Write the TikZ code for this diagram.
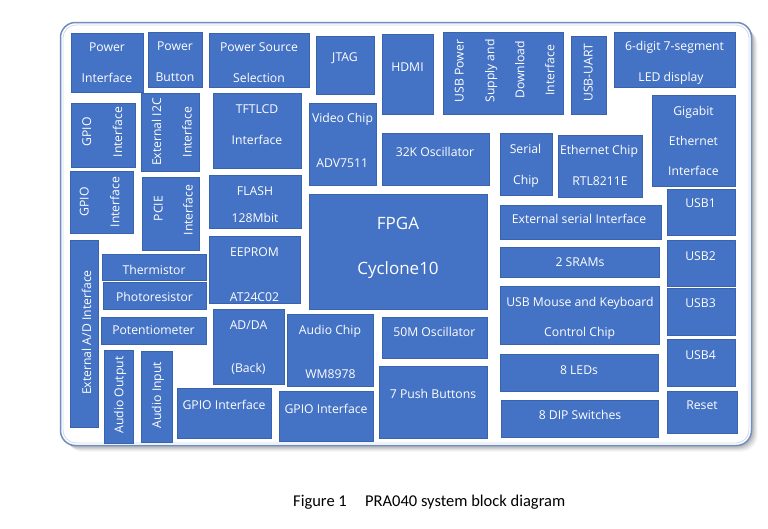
\documentclass[tikz,border=0pt]{standalone}
\usepackage{fontspec}
\setmainfont{Open Sans}
\newfontfamily\capfont{Carlito}
\definecolor{blkfill}{HTML}{4472C4}
\definecolor{blkline}{HTML}{3A63AE}
\definecolor{frameline}{HTML}{6F8DC0}
\definecolor{framein}{HTML}{D3DBEA}
\tikzset{
  blkst/.style={draw=blkline, fill=blkfill, line width=0.7pt, inner sep=0pt, outer sep=0pt},
  txt/.style={text=white, font=\fontsize{12.2}{14}\selectfont, inner sep=0pt, text height=8.7pt, text depth=0pt},
  bigtxt/.style={text=white, font=\fontsize{17}{19}\selectfont, inner sep=0pt, text height=12.1pt, text depth=0pt},
  capst/.style={text=black, font=\capfont\fontsize{16.5}{19}\selectfont, inner sep=0pt},
  framest/.style={draw=frameline, fill=white, line width=1.5pt, rounded corners=15pt, inner sep=0pt}
}
\newcommand\blk[5]{\node[blkst, minimum width={(#4-#2)*1pt}, minimum height={(#5-#3)*1pt}] (#1) at ({(#2+#4)/2},{(#3+#5)/2}) {};}
\newcommand\bxt[4]{\node[txt] (#1) at (#2,#3) {#4};}
\newcommand\bxr[4]{\node[txt, rotate=90] (#1) at (#2,#3) {#4};}
\begin{document}
\begin{tikzpicture}[x=1pt,y=-1pt]
\useasboundingbox (0,0) rectangle (768,528);
% shadow
\foreach \o/\op in {6/0.04,5/0.05,4/0.06,3/0.07,2/0.08}{
  \fill[black, opacity=\op, rounded corners=16pt] (60.5+\o,22.5+\o) rectangle (751.5+\o,445.5+\o);
}
\node[framest, minimum width=691pt, minimum height=423pt] (frame) at (406,234) {};
\draw[framein, line width=0.8pt, rounded corners=13pt] (63,25) rectangle (749,443);

% boxes
\blk{pwrif}{71}{33}{143}{92}
\bxt{pwrif1}{107}{47}{Power}
\bxt{pwrif2}{107}{78}{Interface}

\blk{pwrbtn}{148}{32}{202}{87}
\bxt{pwrbtn1}{175}{46}{Power}
\bxt{pwrbtn2}{175}{76.7}{Button}

\blk{pss}{209}{33}{309}{87}
\bxt{pss1}{259}{47}{Power Source}
\bxt{pss2}{259}{78}{Selection}

\blk{gpioa}{71}{103}{135}{167}
\bxr{gpioa1}{86.7}{132}{GPIO}
\bxr{gpioa2}{117.7}{132}{Interface}

\blk{iic}{141}{93}{199}{171}
\bxr{iic1}{156.7}{132}{External I2C}
\bxr{iic2}{187.3}{132}{Interface}

\blk{tft}{213}{93}{301}{168}
\bxt{tft1}{257}{109.3}{TFTLCD}
\bxt{tft2}{257}{140}{Interface}

\blk{gpiob}{70}{171}{133}{233}
\bxr{gpiob1}{84.3}{202}{GPIO}
\bxr{gpiob2}{115}{202}{Interface}

\blk{pcie}{142}{177}{199}{250}
\bxr{pcie1}{158.3}{208.5}{PCIE}
\bxr{pcie2}{188.3}{210}{Interface}

\blk{flash}{209}{175}{301}{228}
\bxt{flash1}{255}{190.7}{FLASH}
\bxt{flash2}{255}{218.3}{128Mbit}

\blk{adext}{70}{240}{98}{427}
\bxr{adext1}{86.7}{332.5}{External A/D Interface}

\blk{therm}{102}{254}{206}{280}
\bxt{therm1}{154}{270}{Thermistor}

\blk{photo}{103}{282}{206}{309}
\bxt{photo1}{154.5}{297}{Photoresistor}

\blk{pot}{101}{317}{206}{344}
\bxt{pot1}{153.5}{330.5}{Potentiometer}

\blk{aout}{104}{350}{133}{443}
\bxr{aout1}{119}{395}{Audio Output}

\blk{ain}{141}{351}{172}{442}
\bxr{ain1}{156.7}{395}{Audio Input}

\blk{gpioc}{177}{388}{271}{438}
\bxt{gpioc1}{224}{405}{GPIO Interface}

\blk{eeprom}{209}{236}{300}{303}
\bxt{eeprom1}{254.5}{251.7}{EEPROM}
\bxt{eeprom2}{254.5}{296.7}{AT24C02}

\blk{adda}{213}{309}{284}{384}
\bxt{adda1}{248.5}{325}{AD/DA}
\bxt{adda2}{248.5}{368.3}{(Back)}

\blk{audio}{287}{314}{373}{386}
\bxt{audio1}{330}{330}{Audio Chip}
\bxt{audio2}{330.5}{374.3}{WM8978}

\blk{gpiod}{279}{391}{373}{441}
\bxt{gpiod1}{326}{409}{GPIO Interface}

\blk{oscb}{382}{317}{487}{358}
\bxt{oscb1}{434.3}{332.3}{50M Oscillator}

\blk{push}{379}{366}{487}{438}
\bxt{push1}{433}{394.3}{7 Push Buttons}

\blk{fpga}{309}{194}{487}{309}
\node[bigtxt] (fpga1) at (398,223.3) {FPGA};
\node[bigtxt] (fpga2) at (398,268.3) {Cyclone10};

\blk{jtag}{316}{36}{374}{94}
\bxt{jtag1}{345}{56.7}{JTAG}

\blk{hdmi}{382}{34}{433}{114}
\bxt{hdmi1}{407.5}{66.7}{HDMI}

\blk{usbpwr}{443}{32}{563}{114}
\bxr{usbpwr1}{459.3}{71}{USB Power}
\bxr{usbpwr2}{490}{71}{Supply and}
\bxr{usbpwr3}{520}{70}{Download}
\bxr{usbpwr4}{550}{70.3}{Interface}

\blk{video}{309}{103}{376}{185}
\bxt{video1}{342.5}{118.3}{Video Chip}
\bxt{video2}{342.3}{162.7}{ADV7511}

\blk{osca}{382}{133}{489}{185}
\bxt{osca1}{435}{151.7}{32K Oscillator}

\blk{serial}{500}{133}{552}{195}
\bxt{serial1}{525.5}{149.3}{Serial}
\bxt{serial2}{526}{180}{Chip}

\blk{extser}{500}{205}{661}{239}
\bxt{extser1}{579}{219}{External serial Interface}

\blk{usbuart}{571}{36}{606}{114}
\bxr{usbuart1}{588.3}{72.5}{USB-UART}

\blk{seg}{614}{32}{735}{87}
\bxt{seg1}{674.5}{46}{6-digit 7-segment}
\bxt{seg2}{671}{76.7}{LED display}

\blk{eth}{558}{135}{642}{197}
\bxt{eth1}{599}{150}{Ethernet Chip}
\bxt{eth2}{600}{180.7}{RTL8211E}

\blk{gige}{652}{95}{735}{186}
\bxt{gige1}{693.5}{110.7}{Gigabit}
\bxt{gige2}{693.5}{141}{Ethernet}
\bxt{gige3}{693.5}{170.7}{Interface}

\blk{usba}{667}{189}{735}{235}
\bxt{usba1}{700.5}{203.3}{USB1}

\blk{usbb}{667}{240}{735}{286}
\bxt{usbb1}{700.5}{256}{USB2}

\blk{usbc}{667}{288}{735}{335}
\bxt{usbc1}{700.5}{302.7}{USB3}

\blk{usbd}{667}{339}{735}{386}
\bxt{usbd1}{700.5}{355.3}{USB4}

\blk{reset}{667}{391}{737}{433}
\bxt{reset1}{702}{405}{Reset}

\blk{sram}{500}{247}{659}{277}
\bxt{sram1}{580}{262.3}{2 SRAMs}

\blk{usbmk}{500}{286}{659}{344}
\bxt{usbmk1}{580}{301.7}{USB Mouse and Keyboard}
\bxt{usbmk2}{579.7}{332.3}{Control Chip}

\blk{leds}{500}{354}{658}{391}
\bxt{leds1}{579}{370}{8 LEDs}

\blk{dip}{501}{400}{658}{437}
\bxt{dip1}{580}{415}{8 DIP Switches}

% caption
\node[capst, anchor=base west] (cap1) at (293,506.5) {Figure 1};
\node[capst, anchor=base west] (cap2) at (365,506.5) {PRA040 system block diagram};
\end{tikzpicture}
\end{document}
